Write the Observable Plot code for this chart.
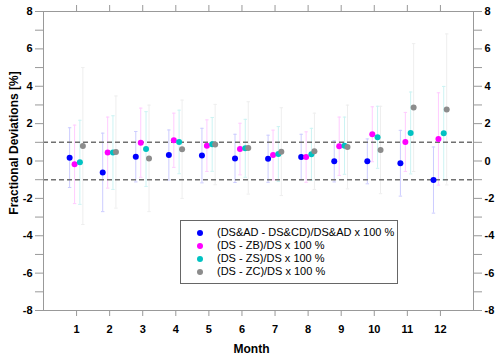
<!DOCTYPE html>
<html><head><meta charset="utf-8">
<script src="https://cdn.jsdelivr.net/npm/d3@7"></script>
<script src="https://cdn.jsdelivr.net/npm/@observablehq/plot@0.6"></script>
<style>
body{margin:0;background:#fff;font-family:Arial,"Liberation Sans",sans-serif;}
#wrap{position:relative;width:500px;height:360px;}
#legend{position:absolute;left:180px;top:220px;width:216px;height:62px;border:1.5px solid #666;background:#fff;font-size:11px;}
.row{position:absolute;left:0;height:13px;line-height:13px;white-space:nowrap;}
.dot{position:absolute;left:16px;top:3.5px;width:6px;height:6px;border-radius:50%;}
.lab{position:absolute;left:36px;top:0;}
</style>
</head><body><div id="wrap"></div>
<script>
const months = [1,2,3,4,5,6,7,8,9,10,11,12];
const seriesNames = ["(DS&AD - DS&CD)/DS&AD x 100 %","(DS - ZB)/DS x 100 %","(DS - ZS)/DS x 100 %","(DS - ZC)/DS x 100 %"];
const seriesColors = ["#0000ff","#ff00ff","#00c2c2","#8c8c8c"];
const seriesOffsets = [-0.21,-0.06,0.1,0.19];
const blueVals = [0.18,-0.61,0.23,0.32,0.29,0.14,0.12,0.21,-0.02,-0.02,-0.12,-1.02];
const blueErr  = [1.6,2.1,1.35,1.34,1.46,1.29,1.26,1.22,1.1,1.2,1.76,1.77];
const magVals  = [-0.18,0.45,0.98,1.11,0.82,0.64,0.32,0.21,0.79,1.43,1.02,1.18];
const magErr   = [2.1,1.9,1.85,1.45,1.38,1.38,1.33,1.35,1.56,1.47,1.58,2.47];
const cyanVals = [-0.07,0.45,0.64,1.02,0.89,0.68,0.37,0.36,0.82,1.27,1.5,1.49];
const cyanErr  = [2.25,1.97,2.0,1.7,1.44,1.55,1.47,1.39,1.53,1.66,2.19,2.5];
const grayVals = [0.8,0.48,0.14,0.63,0.88,0.7,0.5,0.52,0.75,0.59,2.86,2.76];
const grayErr  = [4.2,3.0,2.85,2.63,2.15,2.47,2.35,2.04,2.24,2.34,3.42,4.04];
const yTicks = [-8,-7,-6,-5,-4,-3,-2,-1,0,1,2,3,4,5,6,7,8];
const refLines = [1,-1];

const vals = [blueVals,magVals,cyanVals,grayVals];
const errs = [blueErr,magErr,cyanErr,grayErr];
const data = [];
vals.forEach((arr,s)=>arr.forEach((v,i)=>data.push({
  s, m: months[i], x: months[i]+seriesOffsets[s], v, lo: v-errs[s][i], hi: v+errs[s][i], color: seriesColors[s]
})));

const capSymbol = {draw(ctx,size){ const r=1.7; ctx.moveTo(-r,0); ctx.lineTo(r,0);} };
const errColor = d => d3.interpolateRgb(d.color,"#ffffff")(d.s === 3 ? 0.85 : 0.8);
const font = "Arial, 'Liberation Sans', sans-serif";
const tf = d => (d % 2 === 0 ? String(d) : "");

const chart = Plot.plot({
  width: 500, height: 360,
  marginLeft: 43, marginRight: 27, marginTop: 11, marginBottom: 50,
  style: {fontFamily: font, background: "white", overflow: "visible"},
  x: {domain: [0,13]},
  y: {domain: [-8,8]},
  marks: [
    Plot.ruleX(data, {x: "x", y1: "lo", y2: "hi", stroke: errColor, strokeWidth: 1}),
    Plot.dot(data, {x: "x", y: "hi", symbol: capSymbol, stroke: errColor, fill: "none", strokeWidth: 1}),
    Plot.dot(data, {x: "x", y: "lo", symbol: capSymbol, stroke: errColor, fill: "none", strokeWidth: 1}),
    Plot.ruleY(refLines, {stroke: "#707070", strokeWidth: 1.5, strokeDasharray: "5,3"}),
    Plot.dot(data, {x: "x", y: "v", r: 3, fill: "color", stroke: null}),
    Plot.frame({stroke: "#999"}),
    Plot.axisY({anchor: "left", ticks: yTicks, tickFormat: tf, tickSize: 8, tickPadding: 3, stroke: "#999", fill: "black", fontWeight: "bold", fontSize: 11, label: null}),
    Plot.axisY({anchor: "right", ticks: yTicks, tickFormat: tf, tickSize: 8, tickPadding: 3, stroke: "#999", fill: "black", fontWeight: "bold", fontSize: 11, label: null}),
    Plot.axisX({anchor: "bottom", ticks: months, tickFormat: d => String(d), tickSize: 6, tickPadding: 9, stroke: "#999", fill: "black", fontWeight: "bold", fontSize: 11, label: null}),
    Plot.axisX({anchor: "top", ticks: months, tickFormat: () => "", tickSize: 7, stroke: "#999", label: null}),
    Plot.text(["Fractional Deviations [%]"], {frameAnchor: "left", textAnchor: "middle", dx: -29, dy: -18, rotate: -90, fontWeight: "bold", fontSize: 12, fill: "black"}),
    Plot.text(["Month"], {frameAnchor: "bottom", dx: -7, dy: 42, fontWeight: "bold", fontSize: 12, fill: "black"})
  ]
});
const wrap = document.getElementById("wrap");
wrap.appendChild(chart);
const leg = document.createElement("div");
leg.id = "legend";
seriesNames.forEach((n,i)=>{
  const row = document.createElement("div");
  row.className = "row";
  row.style.top = (5 + i*13) + "px";
  const dot = document.createElement("div");
  dot.className = "dot"; dot.style.background = seriesColors[i];
  const lab = document.createElement("div");
  lab.className = "lab"; lab.textContent = n;
  row.appendChild(dot); row.appendChild(lab);
  leg.appendChild(row);
});
wrap.appendChild(leg);
</script></body></html>
